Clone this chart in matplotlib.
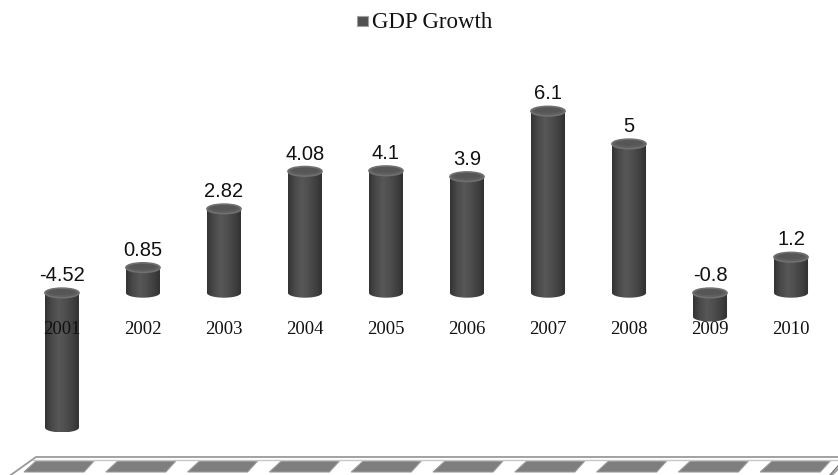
import numpy as np
import matplotlib.pyplot as plt
from matplotlib.patches import Ellipse, Polygon, Rectangle
from matplotlib.colors import LinearSegmentedColormap

years = ["2001", "2002", "2003", "2004", "2005", "2006", "2007", "2008", "2009", "2010"]
growth = [-4.52, 0.85, 2.82, 4.08, 4.1, 3.9, 6.1, 5, -0.8, 1.2]
value_labels = ["-4.52", "0.85", "2.82", "4.08", "4.1", "3.9", "6.1", "5", "-0.8", "1.2"]

fig = plt.figure(figsize=(8.38, 4.75), dpi=100)
ax = fig.add_axes([0, 0, 1, 1])
ax.set_xlim(-0.765, 9.58)
ax.set_ylim(-6.11, 9.83)
ax.axis("off")

# shading across the cylinder (left dark -> lighter middle -> dark right)
body_cmap = LinearSegmentedColormap.from_list(
    "cyl", ["#333333", "#4a4a4a", "#575757", "#4e4e4e", "#404040", "#2e2e2e"])
grad = np.linspace(0, 1, 256).reshape(1, -1)

w = 0.42      # bar width (data units)
h = 0.16      # half-height of the ellipse caps

for i, (v, lab) in enumerate(zip(growth, value_labels)):
    top, bot = (v, 0.0) if v >= 0 else (0.0, v)
    xl, xr = i - w / 2, i + w / 2

    t = np.linspace(np.pi, 2 * np.pi, 40)
    lower = np.column_stack([i + w / 2 * np.cos(t), bot + h * np.sin(t)])
    pts = np.vstack([[xl, top], lower, [xr, top]])
    body = Polygon(pts, closed=True, facecolor="none", edgecolor="none")
    ax.add_patch(body)
    im = ax.imshow(grad, cmap=body_cmap, aspect="auto",
                   extent=[xl, xr, bot - h, top], zorder=2)
    im.set_clip_path(body)

    # top cap
    ax.add_patch(Ellipse((i, top), w, 2 * h, facecolor="#5e5e5e",
                         edgecolor="#707070", linewidth=1.2, zorder=3))
    ax.add_patch(Ellipse((i, top + 0.03), w * 0.8, 2 * h * 0.6,
                         facecolor="#565656", edgecolor="none", zorder=3))

    ax.text(i, top + h + 0.1, lab, ha="center", va="bottom",
            fontsize=14.5, family="Liberation Sans", color="#111111", zorder=4)
    ax.text(i, -1.24, years[i], ha="center", va="center",
            fontsize=13.5, family="Liberation Serif", color="#111111", zorder=4)

# legend / title at the top
fig.text(0.444, 1 - 28 / 475, "GDP Growth", ha="left", va="baseline",
         fontsize=16.5, family="Liberation Serif", color="#111111")
fig.patches.append(Rectangle((357 / 838, 1 - 26 / 475), 11 / 838, 10 / 475,
                             transform=fig.transFigure, facecolor="#505050",
                             edgecolor="#a0a0a0", linewidth=0.8))

# floor with stripes
W, H = 838.0, 475.0
def fx(px):
    return px / W
def fy(py):
    return 1 - py / H

floor = Polygon([(fx(36), fy(457)), (fx(850), fy(457)), (fx(830), fy(477)), (fx(8), fy(477))],
                closed=True, transform=fig.transFigure, facecolor="#ffffff",
                edgecolor="#9a9a9a", linewidth=1.3)
fig.patches.append(floor)
fig.lines.append(plt.Line2D([fx(33), fx(840)], [fy(459.5), fy(459.5)],
                            transform=fig.transFigure, color="#c8c8c8", linewidth=1))
fig.lines.append(plt.Line2D([fx(830), fx(845)], [fy(475), fy(458)],
                            transform=fig.transFigure, color="#777777", linewidth=1))
for k in range(len(years)):
    x0 = 24 + 81.8 * k
    stripe = Polygon([(fx(x0 + 12), fy(461)), (fx(x0 + 70), fy(461)),
                      (fx(x0 + 60), fy(472)), (fx(x0), fy(472))],
                     closed=True, transform=fig.transFigure,
                     facecolor="#7e7e7e", edgecolor="#9a9a9a", linewidth=0.8)
    fig.patches.append(stripe)

fig.savefig("out.png", dpi=100)
